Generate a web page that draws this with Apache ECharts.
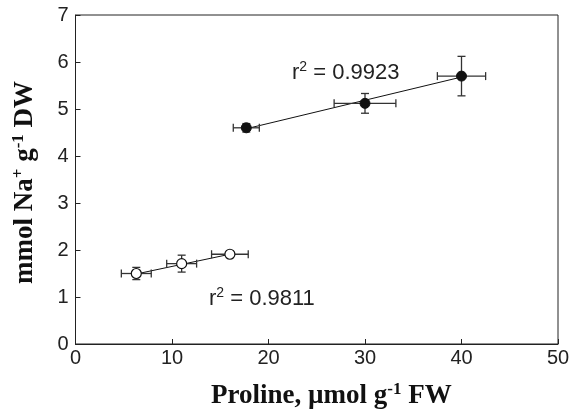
<!DOCTYPE html>
<html><head><meta charset="utf-8">
<script src="https://cdn.jsdelivr.net/npm/echarts@6/dist/echarts.min.js"></script>
<style>html,body{margin:0;padding:0;background:#fff}#c{width:574px;height:414px}</style>
</head><body><div id="c"></div>
<script>
// Filled circles (upper group)
const filledX = [17.7, 30.0, 40.0];
const filledY = [4.60, 5.12, 5.70];
const filledXErr = [1.35, 3.2, 2.5];
const filledYErr = [0.09, 0.21, 0.42];
// Open circles (lower group)
const openX = [6.3, 11.0, 16.0];
const openY = [1.50, 1.71, 1.91];
const openXErr = [1.55, 1.55, 1.9];
const openYErr = [0.13, 0.18, 0.06];
// Regression line endpoints
const fitFilledX = [17.7, 40.0];
const fitFilledY = [4.58, 5.68];
const fitOpenX = [6.3, 16.0];
const fitOpenY = [1.49, 1.91];
// Annotations
const r2Filled = '0.9923';
const r2Open = '0.9811';
const xTicks = [0, 10, 20, 30, 40, 50];
const yTicks = [0, 1, 2, 3, 4, 5, 6, 7];

const zip = (xs, ys) => xs.map((x, i) => [x, ys[i]]);
const errData = (xs, ys, ex, ey) => xs.map((x, i) => [x, ys[i], ex[i], ey[i]]);

function errRender(params, api) {
  const x = api.value(0), y = api.value(1), ex = api.value(2), ey = api.value(3);
  const l = api.coord([x - ex, y]), r = api.coord([x + ex, y]);
  const t = api.coord([x, y + ey]), b = api.coord([x, y - ey]);
  const cap = 4;
  const st = { stroke: '#333', lineWidth: 1.3 };
  const line = (x1, y1, x2, y2) => ({ type: 'line', shape: { x1, y1, x2, y2 }, style: st });
  return { type: 'group', children: [
    line(l[0], l[1], r[0], r[1]),
    line(l[0], l[1] - cap, l[0], l[1] + cap),
    line(r[0], r[1] - cap, r[0], r[1] + cap),
    line(t[0], t[1], b[0], b[1]),
    line(t[0] - cap, t[1], t[0] + cap, t[1]),
    line(b[0] - cap, b[1], b[0] + cap, b[1])
  ]};
}

const chart = echarts.init(document.getElementById('c'), null, { renderer: 'canvas' });
const tickFont = { fontFamily: 'Liberation Sans, Arial, sans-serif', fontSize: 20, color: '#222' };
const sans = 'Liberation Sans, Arial, sans-serif';
const serif = 'Liberation Serif, Times New Roman, serif';
const r2Rich = {
  n: { fontFamily: sans, fontSize: 22, fill: '#222' },
  s: { fontFamily: sans, fontSize: 14, fill: '#222', padding: [0, 0, 11, 0] }
};
const titleRich = {
  t: { fontFamily: serif, fontWeight: 'bold', fontSize: 27, fill: '#111' },
  s: { fontFamily: serif, fontWeight: 'bold', fontSize: 17, fill: '#111', padding: [0, 0, 14, 0] }
};
chart.setOption({
  animation: false,
  grid: { left: 75.5, right: 16, top: 15, bottom: 70, show: true, borderColor: '#222', borderWidth: 1, backgroundColor: 'transparent' },
  xAxis: {
    type: 'value', min: 0, max: 50, interval: 10,
    axisLine: { show: true, lineStyle: { color: '#222', width: 1 } },
    axisTick: { show: true, inside: true, length: 5, lineStyle: { color: '#222' } },
    splitLine: { show: false },
    axisLabel: Object.assign({ margin: 4, formatter: v => xTicks.includes(v) ? String(v) : '' }, tickFont)
  },
  yAxis: {
    type: 'value', min: 0, max: 7, interval: 1,
    axisLine: { show: true, lineStyle: { color: '#222', width: 1 } },
    axisTick: { show: true, inside: true, length: 5, lineStyle: { color: '#222' } },
    splitLine: { show: false },
    axisLabel: Object.assign({ margin: 7, formatter: v => yTicks.includes(v) ? String(v) : '' }, tickFont)
  },
  series: [
    { type: 'line', data: zip(fitFilledX, fitFilledY), symbol: 'none', lineStyle: { color: '#111', width: 1 }, z: 1 },
    { type: 'line', data: zip(fitOpenX, fitOpenY), symbol: 'none', lineStyle: { color: '#111', width: 1 }, z: 1 },
    { type: 'custom', renderItem: errRender, data: errData(filledX, filledY, filledXErr, filledYErr), z: 2 },
    { type: 'custom', renderItem: errRender, data: errData(openX, openY, openXErr, openYErr), z: 2 },
    { type: 'scatter', data: zip(filledX, filledY), symbol: 'circle', symbolSize: 10, itemStyle: { color: '#111', borderColor: '#111', borderWidth: 1, opacity: 1 }, z: 3 },
    { type: 'scatter', data: zip(openX, openY), symbol: 'circle', symbolSize: 10, itemStyle: { color: '#fff', borderColor: '#111', borderWidth: 1.2, opacity: 1 }, z: 3 }
  ],
  graphic: [
    { type: 'text', left: 292, top: 60, style: { text: '{n|r}{s|2}{n| = ' + r2Filled + '}', rich: r2Rich } },
    { type: 'text', left: 209, top: 286, style: { text: '{n|r}{s|2}{n| = ' + r2Open + '}', rich: r2Rich } },
    { type: 'text', left: 211, top: 381, style: { text: '{t|Proline, µmol g}{s|-1}{t| FW}', rich: titleRich } },
    { type: 'text', x: 10, y: 284, rotation: Math.PI / 2, style: { text: '{t|mmol Na}{s|+}{t| g}{s|-1}{t| DW}', rich: titleRich } }
  ]
});
</script></body></html>
